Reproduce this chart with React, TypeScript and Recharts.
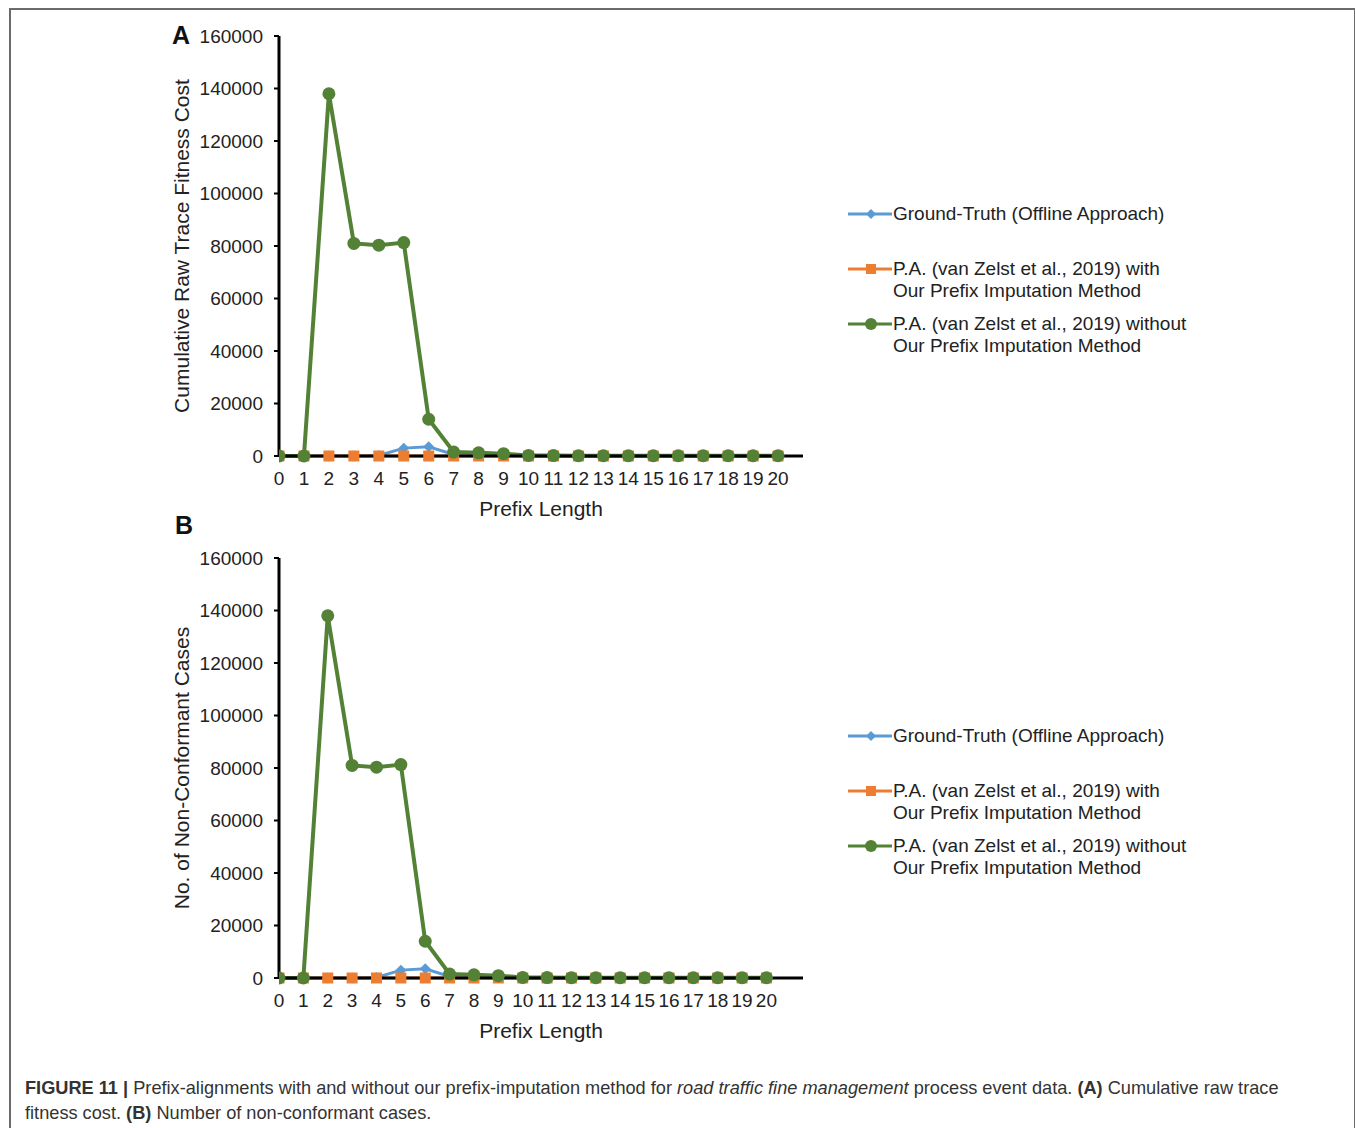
import React from 'react';
import { LineChart, Line, XAxis, YAxis } from 'recharts';

const prefixLengths = [0, 1, 2, 3, 4, 5, 6, 7, 8, 9, 10, 11, 12, 13, 14, 15, 16, 17, 18, 19, 20];
const groundTruth = [0, 0, 0, 0, 200, 3000, 3500, 600, 300, 200, 100, 100, 50, 50, 50, 50, 50, 50, 50, 50, 50];
const withImputation = [0, 0, 0, 0, 0, 0, 0, 0, 0, 0, 0, 0, 0, 0, 0, 0, 0, 0, 0, 0, 0];
const withoutImputation = [0, 0, 138000, 81000, 80300, 81300, 14000, 1500, 1200, 900, 200, 150, 100, 100, 100, 100, 100, 100, 100, 100, 100];
const yTicks = [0, 20000, 40000, 60000, 80000, 100000, 120000, 140000, 160000];

const seriesNames = [
  'Ground-Truth (Offline Approach)',
  'P.A. (van Zelst et al., 2019) with\nOur Prefix Imputation Method',
  'P.A. (van Zelst et al., 2019) without\nOur Prefix Imputation Method',
];

const BLUE = '#5b9bd5';
const ORANGE = '#ed7d31';
const GREEN = '#538135';
const FONT = '"Liberation Sans", Arial, Helvetica, sans-serif';

const data = prefixLengths.map((x, i) => ({
  x,
  gt: groundTruth[i],
  withPI: withImputation[i],
  withoutPI: withoutImputation[i],
}));

const Diamond = (props: any) => {
  const { cx, cy } = props;
  if (cx == null || cy == null) return null;
  const r = 5.5;
  return <polygon points={`${cx},${cy - r} ${cx + r},${cy} ${cx},${cy + r} ${cx - r},${cy}`} fill={BLUE} />;
};

const Square = (props: any) => {
  const { cx, cy } = props;
  if (cx == null || cy == null) return null;
  return <rect x={cx - 5.5} y={cy - 5.5} width={11} height={11} fill={ORANGE} />;
};

const Circle = (props: any) => {
  const { cx, cy } = props;
  if (cx == null || cy == null) return null;
  return <circle cx={cx} cy={cy} r={6.5} fill={GREEN} />;
};

// legend drawn as plain html next to the plot (recharts Legend would eat plot space)
const LegendBox = ({ top }: { top: number }) => {
  const icons = [
    <polygon key="d" points="23,1 28,6 23,11 18,6" fill={BLUE} />,
    <rect key="s" x={18} y={1} width={10} height={10} fill={ORANGE} />,
    <circle key="c" cx={23} cy={6} r={6} fill={GREEN} />,
  ];
  const colors = [BLUE, ORANGE, GREEN];
  const gaps = [0, 33, 11];
  return (
    <div style={{ position: 'absolute', left: 848, top, fontFamily: FONT, fontSize: 19, color: '#222' }}>
      {seriesNames.map((name, i) => (
        <div key={i} style={{ display: 'flex', alignItems: 'flex-start', marginTop: gaps[i], lineHeight: '22px' }}>
          <svg width={45} height={12} style={{ marginTop: 5, flex: 'none' }}>
            <line x1={0} y1={6} x2={44} y2={6} stroke={colors[i]} strokeWidth={3} />
            {icons[i]}
          </svg>
          <div style={{ whiteSpace: 'pre' }}>{name}</div>
        </div>
      ))}
    </div>
  );
};

const YTitle = ({ viewBox, value }: any) => {
  const cx = 181;
  const cy = viewBox.y + viewBox.height / 2;
  return (
    <text x={cx} y={cy} transform={`rotate(-90 ${cx} ${cy})`} textAnchor="middle" dominantBaseline="central"
      fontSize={21} fontFamily={FONT} fill="#222">{value}</text>
  );
};

const Panel = ({ title, xMax }: { title: string; xMax: number }) => (
  <LineChart width={820} height={530} data={data} margin={{ top: 36, right: 17, left: 0, bottom: 4 }}>
    <XAxis
      dataKey="x"
      type="number"
      domain={[0, xMax]}
      ticks={prefixLengths}
      interval={0}
      allowDataOverflow
      axisLine={{ stroke: '#000', strokeWidth: 3 }}
      tickLine={false}
      tickSize={6}
      tickMargin={10}
      height={70}
      tick={{ fill: '#222', fontSize: 19, fontFamily: FONT }}
      label={{ value: 'Prefix Length', position: 'insideBottom', offset: 10, fill: '#222', fontSize: 21, fontFamily: FONT }}
    />
    <YAxis
      type="number"
      domain={[0, 160000]}
      ticks={yTicks}
      interval={0}
      width={279}
      axisLine={{ stroke: '#000', strokeWidth: 3 }}
      tickLine={{ stroke: '#000', strokeWidth: 2 }}
      tickSize={5}
      tickMargin={11}
      tick={{ fill: '#222', fontSize: 19, fontFamily: FONT }}
      label={<YTitle value={title} />}
    />
    <Line dataKey="gt" name={seriesNames[0]} stroke={BLUE} strokeWidth={3} dot={<Diamond />} isAnimationActive={false} />
    <Line dataKey="withPI" name={seriesNames[1]} stroke={ORANGE} strokeWidth={3} dot={<Square />} isAnimationActive={false} />
    <Line dataKey="withoutPI" name={seriesNames[2]} stroke={GREEN} strokeWidth={4} dot={<Circle />} isAnimationActive={false} />
  </LineChart>
);

export default function App() {
  return (
    <div style={{ position: 'absolute', left: 0, top: 0, width: 1355, height: 1128, background: '#fff', overflow: 'hidden' }}>
      <div style={{ position: 'absolute', left: 9, top: 8, width: 1343, height: 1140, border: '2px solid #6b6b6b', borderBottom: 'none' }} />
      <div style={{ position: 'absolute', left: 0, top: 0 }}>
        <Panel title="Cumulative Raw Trace Fitness Cost" xMax={21} />
      </div>
      <div style={{ position: 'absolute', left: 0, top: 522 }}>
        <Panel title="No. of Non-Conformant Cases" xMax={21.5} />
      </div>
      <div style={{ position: 'absolute', left: 172, top: 21, fontFamily: FONT, fontSize: 25, fontWeight: 'bold', color: '#111' }}>A</div>
      <div style={{ position: 'absolute', left: 175, top: 511, fontFamily: FONT, fontSize: 25, fontWeight: 'bold', color: '#111' }}>B</div>
      <LegendBox top={203} />
      <LegendBox top={725} />
      <div style={{ position: 'absolute', left: 25, top: 1076, width: 1310, fontFamily: FONT, fontSize: 18.2, lineHeight: '25px', color: '#333' }}>
        <b>FIGURE 11 |</b> Prefix-alignments with and without our prefix-imputation method for <i>road traffic fine management</i> process event data. <b>(A)</b> Cumulative raw trace<br />
        fitness cost. <b>(B)</b> Number of non-conformant cases.
      </div>
    </div>
  );
}
